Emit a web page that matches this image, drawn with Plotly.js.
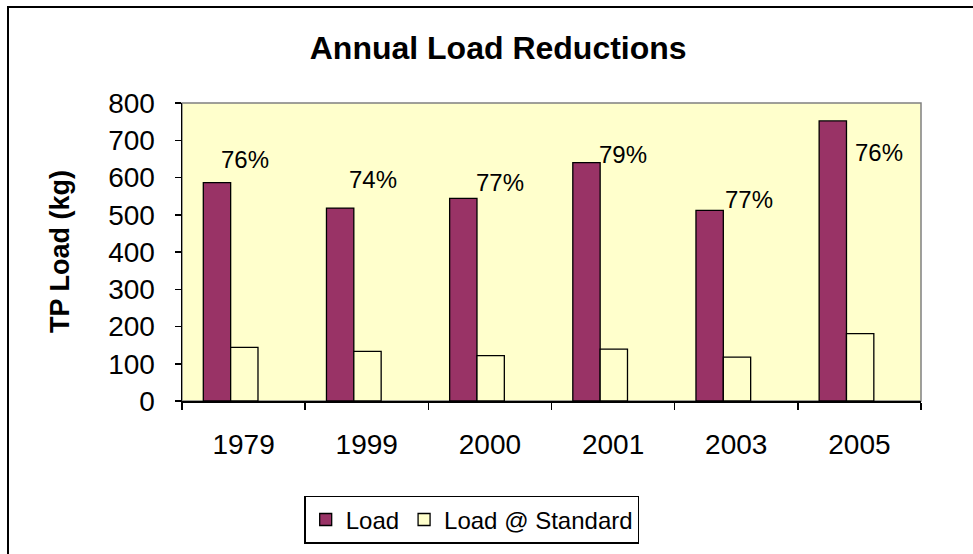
<!DOCTYPE html>
<html>
<head>
<meta charset="utf-8">
<script src="https://cdn.plot.ly/plotly-3.0.1.min.js"></script>
<style>
  html, body { margin: 0; padding: 0; background: #ffffff; }
  #wrap { position: relative; width: 973px; height: 554px; overflow: hidden; }
  #chart { width: 973px; height: 554px; }
  #frame { position: absolute; left: 7px; top: 6px; right: -10px; bottom: -10px;
           border-left: 2px solid #000; border-top: 2px solid #000; pointer-events: none; }
</style>
</head>
<body>
<div id="wrap">
  <div id="chart"></div>
  <div id="frame"></div>
</div>
<script>
const years = ["1979", "1999", "2000", "2001", "2003", "2005"];
const loadValues = [586, 518, 544, 640, 512, 752];
const standardValues = [144, 133, 122, 139, 118, 181];
const reductionLabels = ["76%", "74%", "77%", "79%", "77%", "76%"];

const FONT = "Liberation Sans, Arial, sans-serif";

const traces = [
  {
    type: "bar", name: "Load", x: years, y: loadValues,
    width: 0.222, offset: -0.327,
    marker: { color: "#993366", line: { color: "#000000", width: 1.3 } },
    hoverinfo: "x+y"
  },
  {
    type: "bar", name: "Load @ Standard", x: years, y: standardValues,
    width: 0.222, offset: -0.105,
    marker: { color: "#FFFFCC", line: { color: "#000000", width: 1.3 } },
    hoverinfo: "x+y"
  }
];

// label placement (style): horizontal shift in category units, vertical position in axis units
const labelPlacement = [[0.01, 648], [0.05, 595], [0.08, 587], [0.08, 662], [0.10, 541], [0.16, 668]];

const annotations = reductionLabels.map((t, i) => ({
  x: i + labelPlacement[i][0], y: labelPlacement[i][1], xref: "x", yref: "y",
  text: t, showarrow: false, xanchor: "center", yanchor: "middle",
  font: { family: FONT, size: 24, color: "#000000" }
}));
annotations.push({
  xref: "paper", yref: "paper", x: -0.165, y: 0.5, xanchor: "center", yanchor: "middle",
  text: "<b>TP Load (kg)</b>", textangle: -90, showarrow: false,
  font: { family: FONT, size: 27, color: "#000000" }
});

const layout = {
  width: 973, height: 554,
  margin: { l: 182, r: 52, t: 103, b: 152 },
  paper_bgcolor: "#ffffff",
  plot_bgcolor: "#FFFFCC",
  font: { family: FONT, color: "#000000" },
  title: {
    text: "<b>Annual Load Reductions</b>",
    font: { family: FONT, size: 32, color: "#000000" },
    xref: "container", yref: "container", x: 0.512, y: 0.913,
    xanchor: "center", yanchor: "middle"
  },
  barmode: "group",
  showlegend: true,
  legend: {
    orientation: "h", x: 0.392, y: -0.314, xanchor: "center", yanchor: "top",
    bordercolor: "#000000", borderwidth: 1.5, bgcolor: "#ffffff",
    font: { family: FONT, size: 24, color: "#000000" },
    itemwidth: 30, traceorder: "normal"
  },
  xaxis: {
    type: "category", range: [-0.5, 5.5],
    showline: true, linecolor: "#000000", linewidth: 1.5,
    ticks: "outside", tickson: "boundaries", ticklen: 7, tickwidth: 1.5, tickcolor: "#000000",
    ticklabelstandoff: 18,
    tickfont: { family: FONT, size: 28, color: "#000000" },
    showgrid: false, zeroline: false, fixedrange: true
  },
  yaxis: {
    range: [0, 800], dtick: 100, tick0: 0,
    showline: true, linecolor: "#000000", linewidth: 1.5,
    ticks: "outside", ticklen: 6, tickwidth: 1.5, tickcolor: "#000000",
    ticklabelstandoff: 14,
    tickfont: { family: FONT, size: 28, color: "#000000" },
    showgrid: false, zeroline: false, fixedrange: true
  },
  shapes: [{
    type: "rect", xref: "paper", yref: "paper", x0: 0, x1: 1, y0: 0, y1: 1,
    line: { color: "#808080", width: 1.5 }, fillcolor: "rgba(0,0,0,0)", layer: "below"
  }],
  annotations: annotations
};

Plotly.newPlot("chart", traces, layout, { displayModeBar: false, staticPlot: true });
</script>
</body>
</html>
